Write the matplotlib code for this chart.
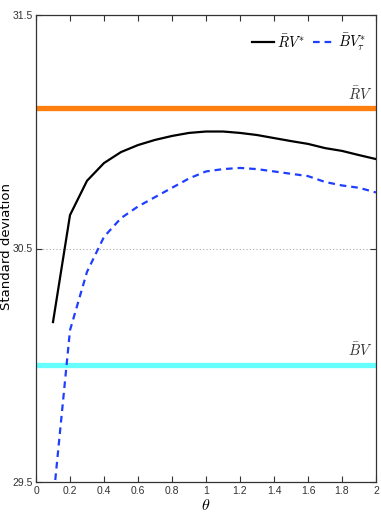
import numpy as np
import matplotlib.pyplot as plt

# valori
theta = [0.1, 0.2, 0.3, 0.4, 0.5, 0.6, 0.7, 0.8, 0.9, 1.0,
         1.1, 1.2, 1.3, 1.4, 1.5, 1.6, 1.7, 1.8, 1.9, 2.0]
rv_star = [30.185, 30.643, 30.79, 30.866, 30.913, 30.943, 30.965, 30.982, 30.995, 31.001,
           31.001, 30.995, 30.986, 30.973, 30.96, 30.948, 30.93, 30.918, 30.90, 30.883]
bv_star = [29.41, 30.15, 30.40, 30.55, 30.63, 30.68, 30.72, 30.76, 30.80, 30.83,
           30.84, 30.845, 30.84, 30.83, 30.82, 30.81, 30.785, 30.77, 30.76, 30.74]
rv_level = 31.10
bv_level = 30.00

plt.rcParams['mathtext.fontset'] = 'cm'
tickfont = ['Liberation Sans Narrow', 'Liberation Sans', 'DejaVu Sans']

fig = plt.figure(figsize=(3.81, 5.23), dpi=100)
ax = fig.add_axes([36/381, 1-482/523, 340/381, 467/523])

ax.axhline(rv_level, color='#ff7f0e', lw=3.8, zorder=2)
ax.axhline(bv_level, color='#66ffff', lw=3.8, zorder=2)
ax.plot(theta, rv_star, color='black', lw=1.6, label=r'$\bar{R}V^{*}$', zorder=3)
ax.plot(theta, bv_star, color='#1f3fff', lw=1.6, ls=(0, (3, 2.2)), label=r'$\bar{B}V^{*}_{\tau}$', zorder=3)

ax.text(1.98, rv_level + 0.025, r'$\bar{R}V$', ha='right', va='bottom', fontsize=10.5, color='#333333')
ax.text(1.98, bv_level + 0.025, r'$\bar{B}V$', ha='right', va='bottom', fontsize=10.5, color='#333333')

ax.set_xlim(0, 2)
ax.set_ylim(29.5, 31.5)
ax.set_xticks(np.arange(0, 2.01, 0.2))
ax.set_xticklabels(['0', '0.2', '0.4', '0.6', '0.8', '1', '1.2', '1.4', '1.6', '1.8', '2'])
ax.set_yticks([29.5, 30.5, 31.5])
ax.set_yticklabels(['29.5', '30.5', '31.5'])
ax.yaxis.grid(True, ls=(0, (1, 2)), color='#aaaaaa', lw=0.8)
ax.tick_params(direction='in', top=True, right=True, length=4, width=0.8, colors='#333333', pad=3)
ax.tick_params(axis='y', pad=2)
for lab in ax.get_xticklabels() + ax.get_yticklabels():
    lab.set_family(tickfont)
    lab.set_fontsize(7.5)
for s in ax.spines.values():
    s.set_color('#333333')
    s.set_linewidth(0.9)

ax.set_xlabel(r'$\theta$', fontsize=11.5, labelpad=1)
ax.set_ylabel('Standard deviation', fontsize=9.5, family='DejaVu Sans')
ax.yaxis.set_label_coords(-0.068, 0.505)

ax.legend(loc='upper right', frameon=False, fontsize=10.5, handlelength=1.5,
          handletextpad=0.2, columnspacing=0.6, ncol=2, borderaxespad=0.3,
          bbox_to_anchor=(1.0, 0.985))

plt.savefig('out.png', dpi=100)
plt.close()
